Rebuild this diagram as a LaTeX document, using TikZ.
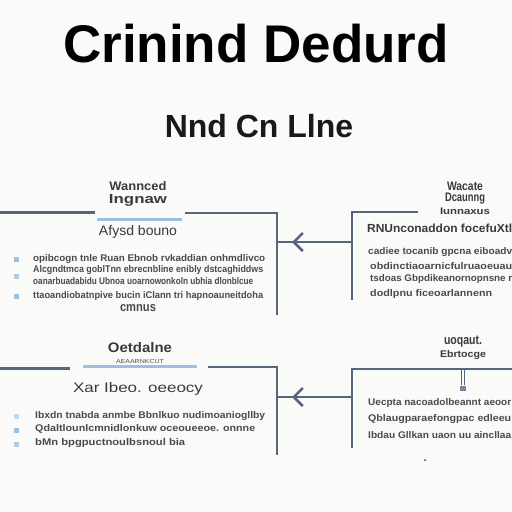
\documentclass[tikz,border=0pt]{standalone}
\usepackage{fontspec}
\setmainfont{Liberation Sans}
\usepackage{graphicx}
\usetikzlibrary{arrows.meta,decorations.markings}
\definecolor{bg}{HTML}{FAFAF8}
\definecolor{dk}{HTML}{55657F}
\definecolor{lb}{HTML}{9DBFE0}
\definecolor{tx}{HTML}{3A3A3A}
\definecolor{tb}{HTML}{4A4A4A}
\newcommand\fitw[3]{\resizebox{#1pt}{#2pt}{#3}}
\tikzset{
  dkline/.style={draw=dk,line width=3pt},
  lbline/.style={draw=lb,line width=3pt},
  vline/.style={draw=dk,line width=2.5pt},
  lbl/.style={inner sep=0pt,text=tx,font=\bfseries},
  body/.style={inner sep=0pt,text=tb,anchor=west,font=\bfseries},
  bul/.style={fill=lb,minimum size=5pt,inner sep=0pt},
  flow/.style={draw=dk,line width=2.5pt,postaction={decorate},
    decoration={markings,mark=at position 0.8 with {\arrow{Straight Barb[length=9pt,width=18pt,line width=2.5pt]}}}}
}
\begin{document}
\begin{tikzpicture}[x=1pt,y=-1pt]
\fill[bg] (0,0) rectangle (512,512);
\useasboundingbox (0,0) rectangle (512,512);
% titles
\node[lbl,text=black,font=\fontsize{53}{60}\selectfont\bfseries] (title) at (256,44) {Crinind Dedurd};
\node[lbl,text=black!90,font=\fontsize{32}{36}\selectfont\bfseries] (sub) at (259,126) {Nnd Cn Llne};
% ---------- top left block
\node[lbl] (tla) at (138,186) {\fitw{57}{9}{Wannced}};
\node[lbl] (tlb) at (138,200) {\fitw{58}{9}{Ingnaw}};
\draw[dkline] (0,212) -- (95,212);
\draw[lbline] (97,219) -- (182,219);
\draw[vline,line join=miter] (185,213) -- (277,213) -- (277,315);
\node[lbl,font=\normalfont] (tlh) at (138,232) {\fitw{78}{10}{Afysd bouno}};
\node[bul] (b1) at (16,259) {};
\node[bul,fill=lb!80] (b2) at (16,276) {};
\node[bul] (b3) at (16,296) {};
\node[body] (l1) at (33,259) {\fitw{232}{7}{opibcogn tnle Ruan Ebnob rvkaddian onhmdlivco}};
\node[body] (l2) at (33,270) {\fitw{230}{7}{Alcgndtmca goblTnn ebrecnbline enibly dstcaghiddws}};
\node[body] (l3) at (33,281) {\fitw{220}{7}{oanarbuadabidu Ubnoa uoarnowonkoln ubhia dlonblcue}};
\node[body] (l4) at (33,296) {\fitw{230}{7}{ttaoandiobatnpive bucin iClann tri hapnoauneitdoha}};
\node[body,anchor=center] (l5) at (138,308) {\fitw{36}{7}{cmnus}};
% ---------- top right block
\node[lbl] (tra) at (465,186) {\fitw{36}{8.5}{Wacate}};
\node[lbl] (trb) at (465,199) {\fitw{40}{8.5}{Dcaunng}};
\node[lbl] (trc) at (465,211) {\fitw{50}{6.5}{Iunnaxus}};
\draw[vline,line join=miter] (418,212) -- (352,212) -- (352,300);
\node[body,text=tx,font=\bfseries] (trh) at (367,228) {\fitw{145}{8.5}{RNUnconaddon focefuXtl}};
\node[body] (r1) at (368,252) {\fitw{144}{7}{cadiee tocanib gpcna eiboadv}};
\node[body] (r2) at (370,266) {\fitw{142}{7}{obdinctiaoarnicfulruaoeuau}};
\node[body] (r3) at (370,279) {\fitw{142}{7}{tsdoas Gbpdikeanornopnsne r}};
\node[body] (r4) at (370,294) {\fitw{122}{7}{dodlpnu ficeoarlannenn}};
\coordinate (tlR) at (277,242);
\coordinate (trL) at (352,242);
\draw[flow] (trL) -- (tlR);
% ---------- bottom left block
\node[lbl] (bla) at (140,348) {\fitw{64}{10}{Oetdalne}};
\node[lbl,font=\normalfont,text=tb] (blb) at (140,362) {\fitw{48}{4}{AEAARNKCUT}};
\draw[dkline] (0,368) -- (70,368);
\draw[lbline] (83,366) -- (197,366);
\draw[vline,line join=miter] (208,367) -- (277,367) -- (277,455);
\node[lbl,font=\normalfont] (blh) at (138,389) {\fitw{130}{10}{Xar Ibeo. oeeocy}};
\node[bul,fill=lb!60] (c1) at (16,416) {};
\node[bul] (c2) at (16,430) {};
\node[bul,fill=lb!80] (c3) at (16,444) {};
\node[body] (m1) at (35,416) {\fitw{230}{7}{Ibxdn tnabda anmbe Bbnlkuo nudimoaniogllby}};
\node[body] (m2) at (35,429) {\fitw{220}{7}{Qdaltlounlcmnidlonkuw oceoueeoe. onnne}};
\node[body] (m3) at (35,443) {\fitw{150}{7}{bMn bpgpuctnoulbsnoul bia}};
% ---------- bottom right block
\node[lbl] (bra) at (463,342) {\fitw{38}{8.5}{uoqaut.}};
\node[lbl] (brb) at (463,355) {\fitw{46}{7}{Ebrtocge}};
\draw[vline,line join=miter] (512,369) -- (352,369) -- (352,448);
\coordinate (pinT) at (463,369);
\node[fill=dk!80,minimum width=6pt,minimum height=5pt,inner sep=0pt] (pin) at (463,388) {};
\draw[draw=dk,line width=0.8pt] ([xshift=-1.5pt]pinT) -- ([xshift=-1.5pt]pin.north);
\draw[draw=dk,line width=0.8pt] ([xshift=1.5pt]pinT) -- ([xshift=1.5pt]pin.north);
\node[body] (s1) at (368,403) {\fitw{143}{7}{Uecpta nacoadolbeannt aeoor}};
\node[body] (s2) at (368,419) {\fitw{143}{7}{Qblaugparaefongpac edleeu}};
\node[body] (s3) at (368,435) {\fitw{143}{7}{Ibdau Gllkan uaon uu aincllaa}};
\coordinate (blR) at (277,397);
\coordinate (brL) at (352,397);
\draw[flow] (brL) -- (blR);
\fill[tx] (425,460) circle (1pt);
\end{tikzpicture}
\end{document}
